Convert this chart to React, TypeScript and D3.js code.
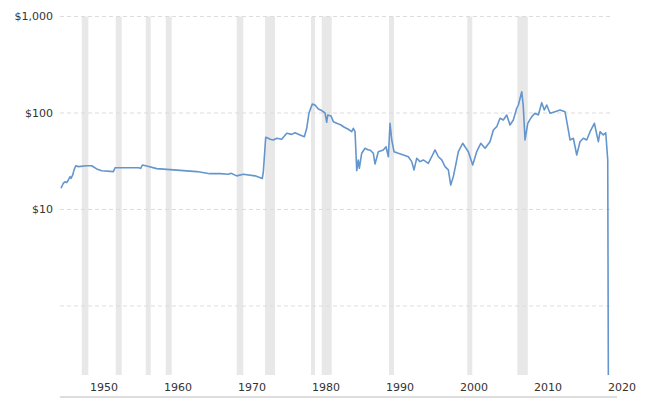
import React from "react";
import * as d3 from "d3";

const yearTicks = [1950, 1960, 1970, 1980, 1990, 2000, 2010, 2020];
const priceTicks = [1000, 100, 10, 1];
const priceTickLabels = ["$1,000", "$100", "$10", ""];

const recessionStarts = [1946.99, 1951.58, 1955.64, 1958.34, 1967.93, 1971.76, 1977.97, 1979.42, 1988.51, 1999.09, 2005.85];
const recessionEnds = [1947.88, 1952.39, 1956.31, 1959.15, 1968.82, 1973.11, 1978.51, 1980.77, 1989.19, 1999.77, 2007.26];

const oilYears = [
  1944.19, 1944.28, 1944.5, 1944.77, 1944.96, 1945.18, 1945.41, 1945.54, 1945.77, 1945.95,
  1946.18, 1946.53, 1947.66, 1948.34, 1949.01, 1949.69, 1951.26, 1951.49, 1953.07, 1954.64,
  1954.96, 1955.18, 1955.77, 1957.12, 1962.53, 1964.32, 1965.68, 1966.8, 1967.16, 1967.93,
  1968.82, 1970.41, 1971.39, 1971.53, 1971.85, 1972.2, 1972.43, 1972.88, 1973.34, 1974.01,
  1974.69, 1975.36, 1975.81, 1976.49, 1977.07, 1977.39, 1977.7, 1978.14, 1978.51, 1978.96,
  1979.42, 1979.86, 1980.09, 1980.23, 1980.68, 1980.99, 1981.45, 1982.03, 1982.47, 1983.01,
  1983.47, 1983.69, 1983.92, 1984.15, 1984.36, 1984.5, 1984.82, 1985.27, 1985.72, 1985.95,
  1986.39, 1986.62, 1987.07, 1987.74, 1988.11, 1988.42, 1988.65, 1988.88, 1989.19, 1989.77,
  1990.45, 1991.12, 1991.58, 1991.89, 1992.26, 1992.7, 1993.15, 1993.82, 1994.28, 1994.73,
  1995.18, 1995.64, 1996.08, 1996.53, 1996.85, 1997.2, 1997.57, 1997.88, 1998.47, 1999.23,
  1999.82, 2000.36, 2000.91, 2001.49, 2002.16, 2002.61, 2003.07, 2003.51, 2003.96, 2004.42,
  2004.86, 2005.31, 2005.77, 2005.99, 2006.45, 2006.66, 2006.89, 2007.26, 2007.8, 2008.24,
  2008.69, 2009.15, 2009.5, 2009.82, 2010.27, 2010.95, 2011.62, 2012.3, 2012.74, 2012.97,
  2013.42, 2013.88, 2014.32, 2014.77, 2015.23, 2015.68, 2016.26, 2016.8, 2017.03, 2017.47,
  2017.8, 2018.07, 2018.15,
];
const oilPrices = [
  16.6, 17.2, 18.7, 19.4, 19.0, 20.2, 21.9, 21.0, 22.8, 25.7,
  28.4, 27.8, 28.4, 28.4, 26.3, 25.2, 24.7, 27.1, 27.1, 27.1,
  26.7, 28.9, 28.2, 26.5, 24.7, 23.5, 23.5, 23.2, 23.7, 22.3,
  23.2, 22.3, 21.0, 24.7, 56.0, 54.7, 53.5, 52.5, 54.7, 53.4,
  61.6, 60.0, 62.5, 59.2, 56.8, 69.4, 100, 123.9, 121, 110,
  106, 100, 80.1, 95.3, 93.1, 81.3, 78.2, 75.1, 71.1, 67.8,
  64.0, 69.4, 64.0, 25.2, 32.6, 26.7, 38.2, 43.1, 41.4, 41.4,
  38.2, 29.6, 39.7, 41.4, 44.7, 35.2, 78.2, 52.5, 39.7, 38.2,
  36.7, 35.2, 31.3, 25.7, 34.0, 31.3, 32.6, 30.1, 35.2, 41.4,
  35.2, 32.6, 27.8, 25.7, 17.9, 21.9, 30.1, 39.7, 48.5, 39.7,
  28.9, 39.7, 48.5, 43.1, 50.4, 66.7, 72.1, 88.1, 84.6, 95.3,
  75.1, 84.6, 112, 121, 166, 116.2, 52.5, 78.2, 91.6, 99.3,
  95.3, 127.9, 107.4, 121, 99.3, 103.2, 107.4, 103.2, 66.7, 52.5,
  54.7, 36.7, 50.4, 54.7, 52.5, 64.0, 78.2, 50.4, 64.0, 59.2,
  62.3, 32.6, 0.19,
];

const W = 648;
const H = 399;
const left = 60;
const right = 613;
const top = 16.5;
const bottom = 375;

export default function App() {
  const x = d3.scaleLinear().domain([1944.05, 2018.78]).range([left, right]);
  const y = d3.scaleLog().domain([0.1925, 1000]).range([bottom, top]).clamp(true);

  const pts: [number, number][] = oilYears.map((yr, i) => [yr, oilPrices[i]]);
  const line = d3
    .line<[number, number]>()
    .x((d) => x(d[0]))
    .y((d) => y(d[1]));

  const font = "'DejaVu Sans', Verdana, sans-serif";

  return (
    <svg
      width={W}
      height={H}
      style={{ position: "fixed", left: 0, top: 0, background: "#fff" }}
    >
      <rect x={0} y={0} width={W} height={H} fill="#fff" />
      {recessionStarts.map((s, i) => (
        <rect
          key={"r" + i}
          x={x(s)}
          y={top}
          width={x(recessionEnds[i]) - x(s)}
          height={bottom - top}
          fill="#e8e8e8"
        />
      ))}
      {priceTicks.map((v, i) => (
        <g key={"g" + i}>
          <line
            x1={left}
            x2={right}
            y1={y(v)}
            y2={y(v)}
            stroke="#dcdcdc"
            strokeWidth={1}
            strokeDasharray="4,3"
          />
          <text
            x={53}
            y={y(v)}
            dy="0.35em"
            textAnchor="end"
            fontFamily={font}
            fontSize={11}
            fill="#333"
          >
            {priceTickLabels[i]}
          </text>
        </g>
      ))}
      <path
        d={line(pts) || ""}
        fill="none"
        stroke="#6496cd"
        strokeWidth={1.6}
        strokeLinejoin="round"
      />
      {yearTicks.map((t) => (
        <text
          key={"t" + t}
          x={x(t)}
          y={387}
          dy="0.35em"
          textAnchor="middle"
          fontFamily={font}
          fontSize={11}
          fill="#333"
        >
          {t}
        </text>
      ))}
      <line x1={left} x2={617} y1={397} y2={397} stroke="#dddddd" strokeWidth={2} />
    </svg>
  );
}
